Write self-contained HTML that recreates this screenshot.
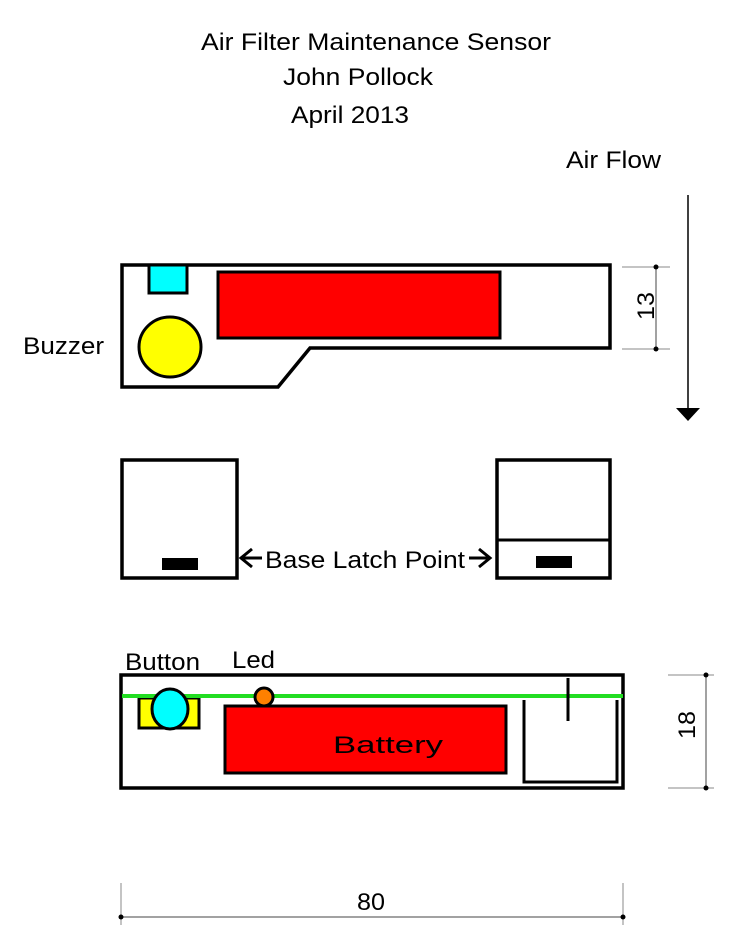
<!DOCTYPE html>
<html><head><style>body{margin:0;background:#fff}svg{display:block}text{font-family:"Liberation Sans",sans-serif;fill:#000}</style></head><body>
<svg width="734" height="950" viewBox="0 0 734 950" xmlns="http://www.w3.org/2000/svg">
<g font-size="24" lengthAdjust="spacingAndGlyphs">
<text x="201" y="50" textLength="350" lengthAdjust="spacingAndGlyphs">Air Filter Maintenance Sensor</text>
<text x="283" y="85" textLength="150" lengthAdjust="spacingAndGlyphs">John Pollock</text>
<text x="291" y="123" textLength="118" lengthAdjust="spacingAndGlyphs">April 2013</text>
<text x="566" y="168" textLength="95" lengthAdjust="spacingAndGlyphs">Air Flow</text>
<text x="23" y="354" textLength="81" lengthAdjust="spacingAndGlyphs">Buzzer</text>
<text x="265" y="568" textLength="200" lengthAdjust="spacingAndGlyphs">Base Latch Point</text>
<text x="125" y="670" textLength="75" lengthAdjust="spacingAndGlyphs">Button</text>
<text x="232" y="668" textLength="43" lengthAdjust="spacingAndGlyphs">Led</text>
<text x="357" y="910" textLength="28" lengthAdjust="spacingAndGlyphs">80</text>
</g>
<line x1="688" y1="195" x2="688" y2="410" stroke="#000" stroke-width="1.5"/>
<polygon points="676,408 700,408 688,421" fill="#000"/>
<polygon points="122,265 610,265 610,348 310,348 278,387 122,387" fill="#fff" stroke="#000" stroke-width="3.5"/>
<rect x="149" y="265" width="38" height="28" fill="#00ffff" stroke="#000" stroke-width="3"/>
<rect x="218" y="272" width="282" height="66" fill="#ff0000" stroke="#000" stroke-width="3"/>
<ellipse cx="170" cy="347" rx="31" ry="30" fill="#ffff00" stroke="#000" stroke-width="3"/>
<g stroke="#888" stroke-width="1"><line x1="622" y1="267" x2="670" y2="267"/><line x1="622" y1="349" x2="670" y2="349"/></g>
<line x1="656" y1="267" x2="656" y2="349" stroke="#444" stroke-width="1"/>
<circle cx="656" cy="267" r="2.5" fill="#000"/><circle cx="656" cy="349" r="2.5" fill="#000"/>
<text font-size="24" text-anchor="middle" textLength="28" lengthAdjust="spacingAndGlyphs" transform="translate(654,306) rotate(-90)">13</text>
<rect x="122" y="460" width="115" height="118" fill="none" stroke="#000" stroke-width="3.5"/>
<rect x="162" y="558" width="36" height="12" fill="#000"/>
<rect x="497" y="460" width="113" height="118" fill="none" stroke="#000" stroke-width="3.5"/>
<line x1="497" y1="540" x2="610" y2="540" stroke="#000" stroke-width="3"/>
<rect x="536" y="556" width="36" height="12" fill="#000"/>
<polyline points="252,549 241,558 252,567" fill="none" stroke="#000" stroke-width="3"/><line x1="241" y1="558" x2="262" y2="558" stroke="#000" stroke-width="3"/>
<polyline points="479,549 490,558 479,567" fill="none" stroke="#000" stroke-width="3"/><line x1="469" y1="558" x2="490" y2="558" stroke="#000" stroke-width="3"/>
<rect x="121" y="675" width="502" height="113" fill="#fff" stroke="#000" stroke-width="3.5"/>
<rect x="139" y="698" width="60" height="30" fill="#ffff00" stroke="#000" stroke-width="3"/>
<rect x="225" y="706" width="281" height="67" fill="#ff0000" stroke="#000" stroke-width="3"/>
<text x="333" y="753" font-size="24" textLength="110" lengthAdjust="spacingAndGlyphs" fill="#222">Battery</text>
<polyline points="524,700 524,782 617,782 617,700" fill="none" stroke="#000" stroke-width="3"/>
<line x1="122" y1="696" x2="623" y2="696" stroke="#22dd22" stroke-width="4"/>
<line x1="568" y1="678" x2="568" y2="721" stroke="#000" stroke-width="3"/>
<ellipse cx="170" cy="709" rx="18" ry="20" fill="#00ffff" stroke="#000" stroke-width="3"/>
<circle cx="264" cy="697" r="9" fill="#ff8000" stroke="#000" stroke-width="3"/>
<g stroke="#888" stroke-width="1"><line x1="668" y1="675" x2="714" y2="675"/><line x1="668" y1="788" x2="714" y2="788"/></g>
<line x1="706" y1="675" x2="706" y2="788" stroke="#444" stroke-width="1"/>
<circle cx="706" cy="675" r="2.5" fill="#000"/><circle cx="706" cy="788" r="2.5" fill="#000"/>
<text font-size="24" text-anchor="middle" textLength="28" lengthAdjust="spacingAndGlyphs" transform="translate(695,725) rotate(-90)">18</text>
<g stroke="#888" stroke-width="1"><line x1="121" y1="883" x2="121" y2="925"/><line x1="623" y1="883" x2="623" y2="925"/></g>
<line x1="121" y1="917" x2="623" y2="917" stroke="#444" stroke-width="1"/>
<circle cx="121" cy="917" r="2.5" fill="#000"/><circle cx="623" cy="917" r="2.5" fill="#000"/>
</svg>
</body></html>
